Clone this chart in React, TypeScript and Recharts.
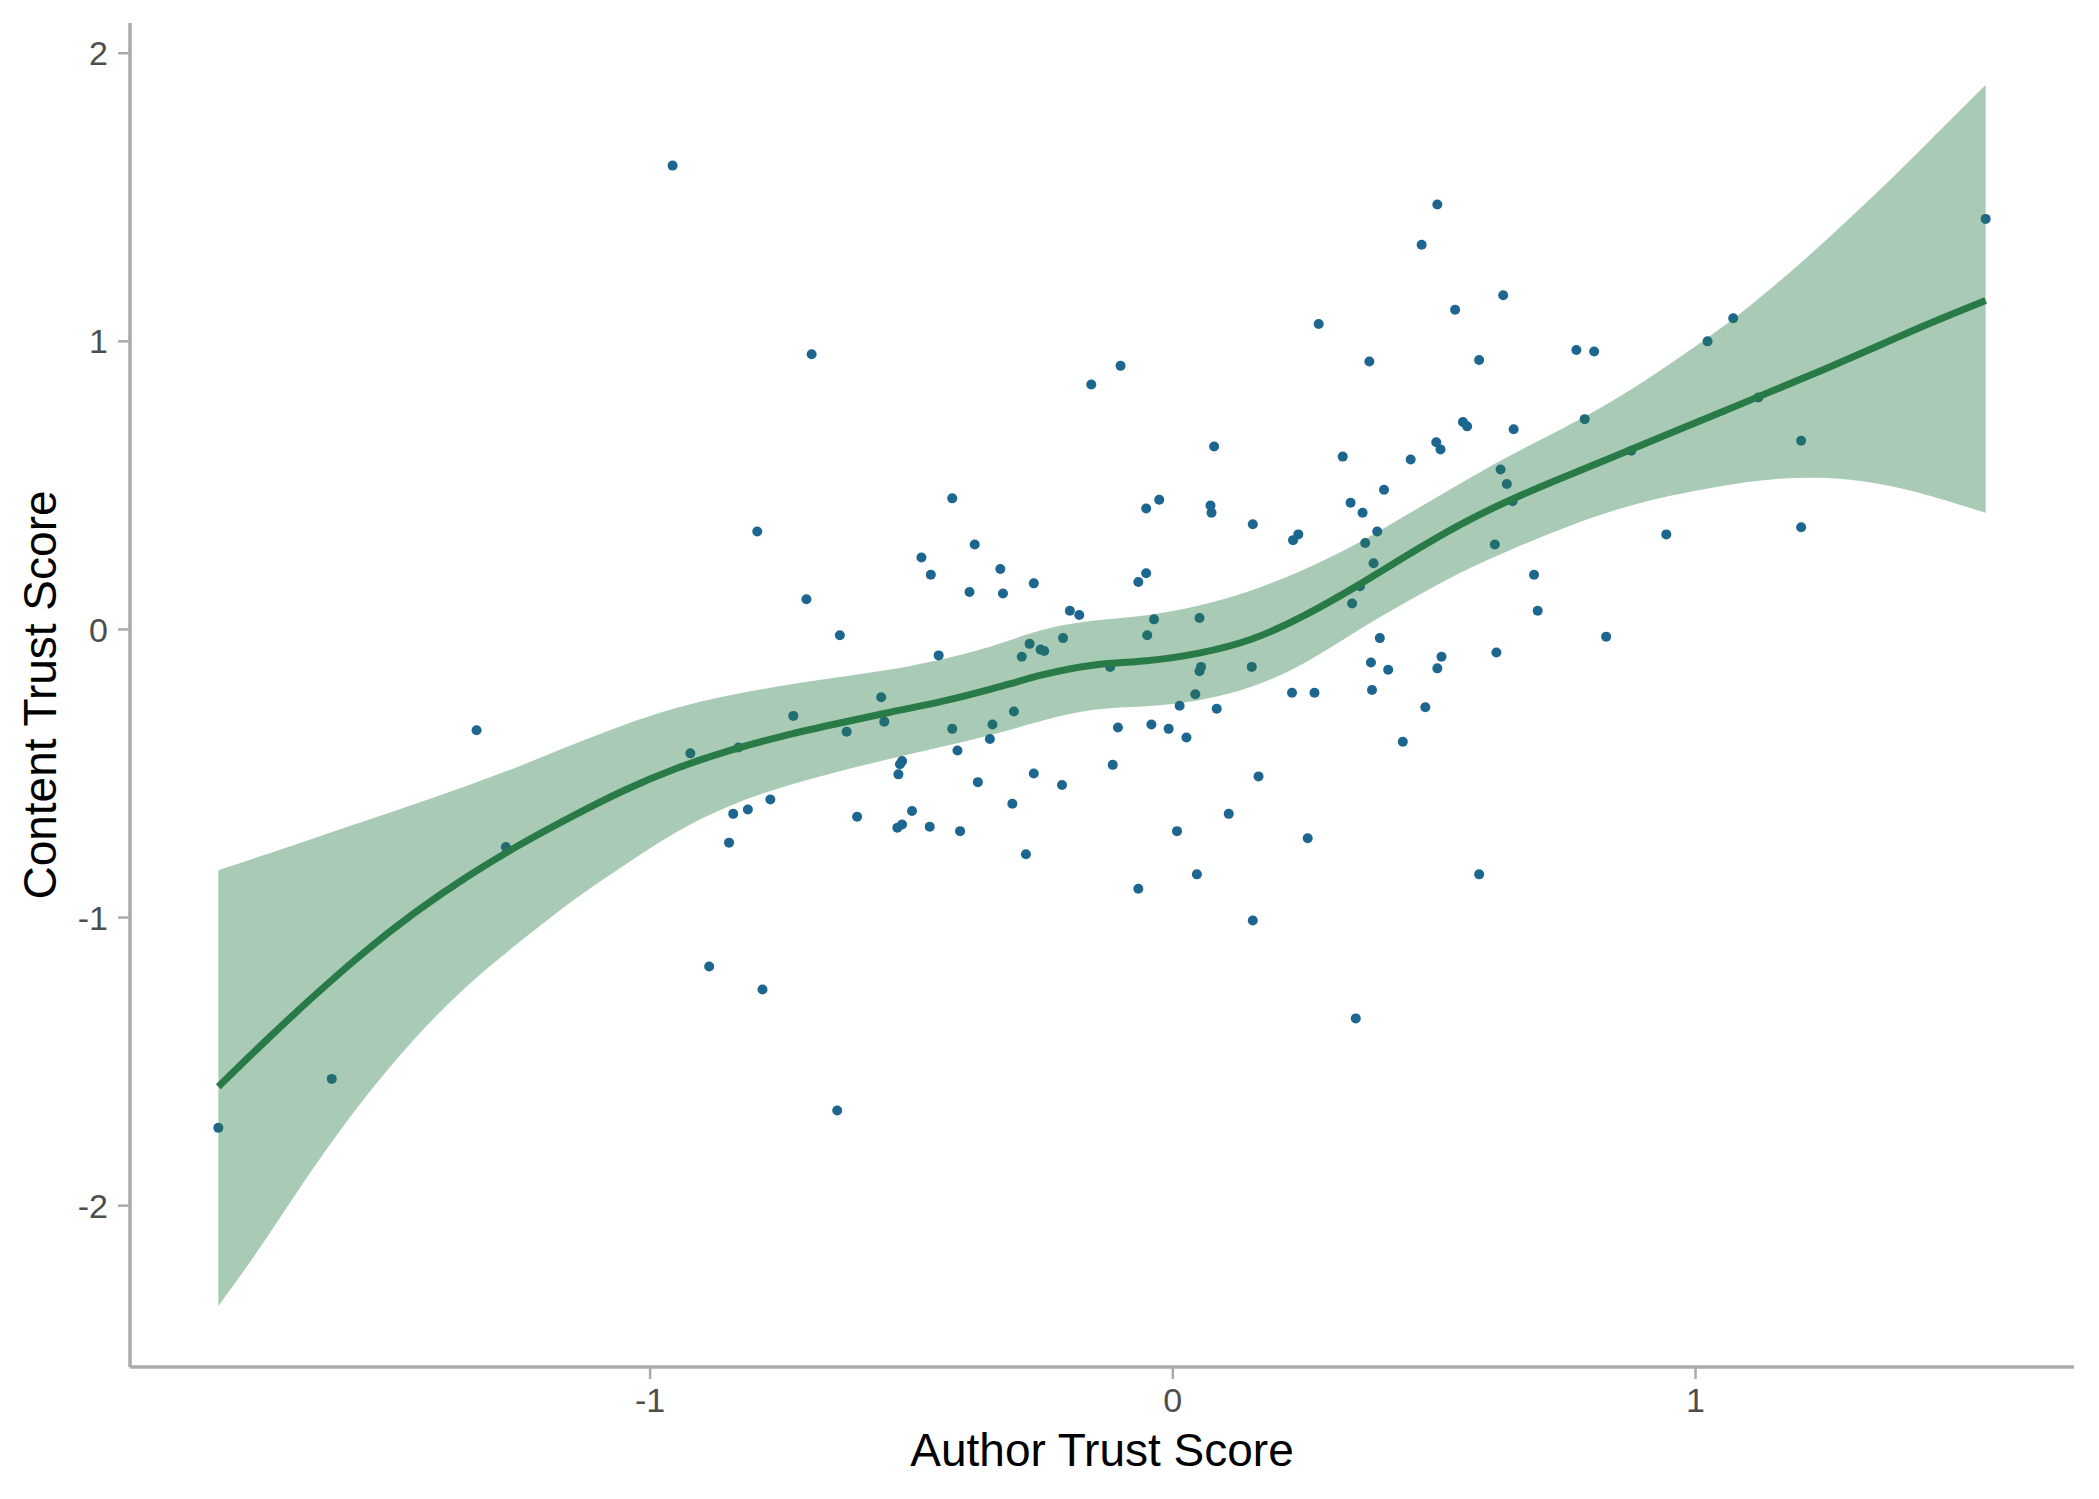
import { ComposedChart, Scatter, Area, Line, XAxis, YAxis } from 'recharts';

// loess fit and its confidence band
const curveX = [
  -1.826, -1.75, -1.65, -1.55, -1.45, -1.35, -1.25, -1.15, -1.05, -0.95, -0.85, -0.75,
  -0.65, -0.55, -0.45, -0.35, -0.25, -0.15, -0.05, 0.05, 0.15, 0.25, 0.35, 0.45, 0.55,
  0.65, 0.75, 0.85, 0.95, 1.05, 1.15, 1.25, 1.35, 1.45, 1.555,
];
const fitY = [
  -1.587, -1.452, -1.282, -1.122, -0.98, -0.856, -0.746, -0.649, -0.556, -0.48, -0.42, -0.37,
  -0.33, -0.29, -0.255, -0.21, -0.155, -0.118, -0.112, -0.085, -0.041, 0.044, 0.147, 0.26, 0.367,
  0.455, 0.53, 0.605, 0.68, 0.755, 0.83, 0.905, 0.985, 1.065, 1.142,
];
const bandLow = [
  -2.348, -2.16, -1.88, -1.63, -1.415, -1.231, -1.085, -0.94, -0.819, -0.698, -0.61, -0.547,
  -0.497, -0.453, -0.411, -0.369, -0.315, -0.272, -0.269, -0.25, -0.205, -0.125, -0.005, 0.099, 0.2,
  0.28, 0.355, 0.42, 0.465, 0.5, 0.525, 0.53, 0.51, 0.465, 0.405,
];
const bandHigh = [
  -0.836, -0.79, -0.729, -0.668, -0.606, -0.543, -0.476, -0.4, -0.33, -0.27, -0.228, -0.195,
  -0.168, -0.144, -0.108, -0.064, 0.005, 0.034, 0.046, 0.08, 0.132, 0.205, 0.292, 0.401, 0.507,
  0.61, 0.7, 0.8, 0.92, 1.045, 1.19, 1.35, 1.52, 1.7, 1.89,
];

// [author trust, content trust]
const observations: [number, number][] = [
  [-1.826, -1.73], [-1.609, -1.56], [-1.332, -0.35], [-1.276, -0.755], [-0.957, 1.61],
  [-0.923, -0.43], [-0.887, -1.17], [-0.849, -0.74], [-0.841, -0.64], [-0.831, -0.41],
  [-0.813, -0.625], [-0.795, 0.34], [-0.785, -1.25], [-0.77, -0.59], [-0.726, -0.3],
  [-0.701, 0.105], [-0.691, 0.955], [-0.642, -1.67], [-0.637, -0.02], [-0.624, -0.355],
  [-0.604, -0.65], [-0.558, -0.235], [-0.552, -0.32], [-0.525, -0.503], [-0.522, -0.468],
  [-0.518, -0.457], [-0.527, -0.688], [-0.518, -0.677], [-0.499, -0.63], [-0.481, 0.25],
  [-0.465, -0.685], [-0.463, 0.19], [-0.448, -0.09], [-0.422, 0.455], [-0.422, -0.345],
  [-0.412, -0.42], [-0.407, -0.7], [-0.389, 0.13], [-0.379, 0.295], [-0.373, -0.53],
  [-0.35, -0.38], [-0.345, -0.33], [-0.33, 0.21], [-0.325, 0.125], [-0.307, -0.605],
  [-0.304, -0.285], [-0.289, -0.095], [-0.281, -0.78], [-0.274, -0.05], [-0.266, 0.16],
  [-0.266, -0.5], [-0.253, -0.07], [-0.246, -0.075], [-0.212, -0.54], [-0.21, -0.03],
  [-0.197, 0.065], [-0.179, 0.05], [-0.156, 0.85], [-0.12, -0.13], [-0.115, -0.47],
  [-0.105, -0.34], [-0.1, 0.915], [-0.066, 0.165], [-0.066, -0.9], [-0.051, 0.42],
  [-0.051, 0.195], [-0.049, -0.02], [-0.041, -0.33], [-0.036, 0.035], [-0.026, 0.45],
  [-0.008, -0.345], [0.008, -0.7], [0.013, -0.265], [0.026, -0.375], [0.043, -0.225],
  [0.046, -0.85], [0.051, 0.04], [0.051, -0.145], [0.054, -0.13], [0.072, 0.43],
  [0.074, 0.405], [0.079, 0.635], [0.084, -0.275], [0.107, -0.64], [0.151, -0.13],
  [0.153, 0.365], [0.153, -1.01], [0.164, -0.51], [0.228, -0.22], [0.23, 0.31],
  [0.24, 0.33], [0.258, -0.725], [0.271, -0.22], [0.279, 1.06], [0.325, 0.6],
  [0.34, 0.44], [0.343, 0.09], [0.35, -1.35], [0.358, 0.15], [0.363, 0.405],
  [0.368, 0.3], [0.376, 0.93], [0.379, -0.115], [0.381, -0.21], [0.384, 0.23],
  [0.391, 0.34], [0.396, -0.03], [0.404, 0.485], [0.412, -0.14], [0.44, -0.39],
  [0.455, 0.59], [0.476, 1.335], [0.483, -0.27], [0.504, 0.65], [0.506, 1.475],
  [0.506, -0.135], [0.512, 0.625], [0.514, -0.095], [0.54, 1.11], [0.555, 0.72],
  [0.563, 0.705], [0.586, 0.935], [0.586, -0.85], [0.616, 0.295], [0.619, -0.08],
  [0.627, 0.555], [0.632, 1.16], [0.639, 0.505], [0.65, 0.445], [0.652, 0.695],
  [0.691, 0.19], [0.698, 0.065], [0.772, 0.97], [0.788, 0.73], [0.806, 0.965],
  [0.829, -0.025], [0.877, 0.62], [0.944, 0.33], [1.023, 1.0], [1.072, 1.08],
  [1.12, 0.805], [1.202, 0.655], [1.202, 0.355], [1.555, 1.425],
];

const xTicks = [-1, 0, 1];
const yTicks = [-2, -1, 0, 1, 2];

const curveData = curveX.map((x, i) => ({ x, fit: fitY[i], band: [bandLow[i], bandHigh[i]] }));
const pointData = observations.map(([x, y]) => ({ x, y }));

const FONT = '"Liberation Sans", Arial, Helvetica, sans-serif';
const AXIS_GREY = '#ababab';
const GREEN = '#287a46';
const POINT_BLUE = '#1c668f';

const W = 2099;
const H = 1499;

function XTitle() {
  return (
    <text x={1102} y={1466} textAnchor="middle" fontSize={46} fontFamily={FONT} fill="#000">
      Author Trust Score
    </text>
  );
}

function YTitle() {
  return (
    <text
      x={56}
      y={695}
      transform="rotate(-90, 56, 695)"
      textAnchor="middle"
      fontSize={46}
      fontFamily={FONT}
      fill="#000"
    >
      Content Trust Score
    </text>
  );
}

const dot = (props: any) => <circle cx={props.cx} cy={props.cy} r={5} fill={POINT_BLUE} />;

export default function App() {
  return (
    <div style={{ position: 'absolute', left: 0, top: 0, width: W, height: H, background: '#fff' }}>
      <ComposedChart width={W} height={H} data={curveData} margin={{ top: 23, right: 25, bottom: 0, left: 0 }}>
        <XAxis
          type="number"
          dataKey="x"
          domain={[-1.995, 1.724]}
          ticks={xTicks}
          allowDataOverflow
          height={132}
          stroke={AXIS_GREY}
          axisLine={{ stroke: AXIS_GREY, strokeWidth: 3.5 }}
          tickLine={{ stroke: AXIS_GREY, strokeWidth: 2.5 }}
          tickSize={12}
          tickMargin={9}
          tick={{ fill: '#4d4d4d', fontSize: 34, fontFamily: FONT }}
          label={<XTitle />}
        />
        <YAxis
          type="number"
          domain={[-2.56, 2.105]}
          ticks={yTicks}
          allowDataOverflow
          width={130}
          stroke={AXIS_GREY}
          axisLine={{ stroke: AXIS_GREY, strokeWidth: 3.5 }}
          tickLine={{ stroke: AXIS_GREY, strokeWidth: 2.5 }}
          tickSize={12}
          tickMargin={10}
          tick={{ fill: '#4d4d4d', fontSize: 34, fontFamily: FONT }}
          label={<YTitle />}
        />
        <Scatter data={pointData} dataKey="y" shape={dot} isAnimationActive={false} zIndex={50} />
        <Area
          type="basis"
          dataKey="band"
          stroke="none"
          fill={GREEN}
          fillOpacity={0.4}
          isAnimationActive={false}
          activeDot={false}
          zIndex={100}
        />
        <Line
          type="basis"
          dataKey="fit"
          stroke={GREEN}
          strokeWidth={7}
          dot={false}
          activeDot={false}
          isAnimationActive={false}
          zIndex={400}
        />
      </ComposedChart>
    </div>
  );
}
